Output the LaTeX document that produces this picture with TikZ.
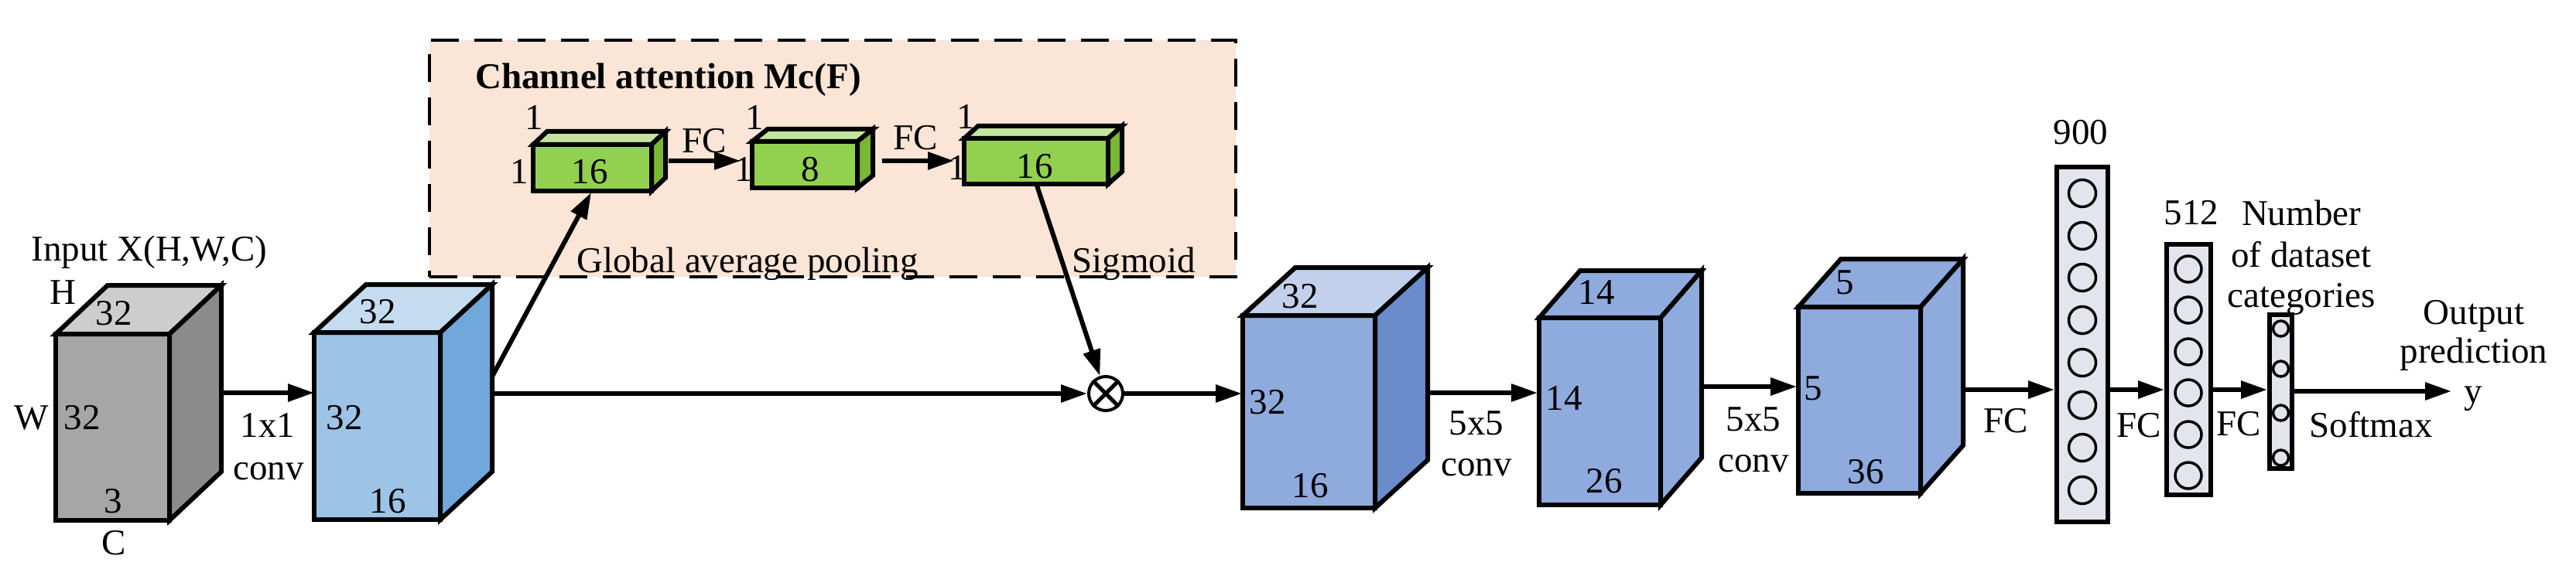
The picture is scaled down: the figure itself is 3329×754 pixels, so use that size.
\documentclass[tikz,border=0pt]{standalone}
\usepackage{fontspec}
\setmainfont{Liberation Serif}
\usetikzlibrary{arrows.meta}
\definecolor{grayFront}{HTML}{A6A6A6}
\definecolor{graySide}{HTML}{8B8B8B}
\definecolor{grayTop}{HTML}{CDCDCD}
\definecolor{bOneFront}{HTML}{9DC3E6}
\definecolor{bOneSide}{HTML}{70A8DB}
\definecolor{bOneTop}{HTML}{C5DCF0}
\definecolor{bThreeFront}{HTML}{8FAADC}
\definecolor{bThreeSide}{HTML}{6A8CCC}
\definecolor{bThreeTop}{HTML}{C2D0EB}
\definecolor{gFront}{HTML}{92D050}
\definecolor{gTop}{HTML}{C4E3A0}
\definecolor{gSide}{HTML}{7AB834}
\definecolor{peach}{HTML}{FBE5D6}
\definecolor{fcfill}{HTML}{E4E4EC}
\newcommand{\drawcube}[9]{%
  \filldraw[cubeedge, fill=#7] (#1,#2) rectangle ++(#3,#4);
  \filldraw[cubeedge, fill=#8] (#1,#2) -- ++(#5,-#6) -- ++(#3,0) -- ++(-#5,#6) -- cycle;
  \filldraw[cubeedge, fill=#9] ({#1+#3},#2) -- ++(#5,-#6) -- ++(0,#4) -- ++(-#5,#6) -- cycle;
}
\begin{document}
\begin{tikzpicture}[x=1pt,y=-1pt,
  lbl/.style={inner sep=0pt, anchor=base, font=\fontsize{47}{56}\selectfont},
  arr/.style={line width=6pt, -{Triangle[length=34pt,width=22pt]}},
  cubeedge/.style={line width=6pt, line join=miter},
  fcbox/.style={draw, line width=6pt, fill=fcfill, rectangle, inner sep=0pt},
  neuron/.style={draw, circle, line width=3.5pt, inner sep=0pt, minimum size=#1},
]
\useasboundingbox (0,0) rectangle (3329,754);

% attention region
\node[draw, line width=4.5pt, dash pattern=on 36pt off 20pt, fill=peach,
      minimum width=1042pt, minimum height=306pt, inner sep=0pt] (attbox) at (1076,205) {};
\node[lbl, anchor=base west, font=\fontsize{47}{56}\selectfont\bfseries] (title) at (614,115) {Channel attention Mc(F)};

% cuboids
\drawcube{72}{432}{147}{241}{67}{63}{grayFront}{grayTop}{graySide}
\drawcube{406}{430}{163}{242}{67}{62}{bOneFront}{bOneTop}{bOneSide}
\drawcube{689}{187}{153}{60}{18}{17}{gFront}{gTop}{gSide}
\drawcube{972}{183}{136}{60}{20}{16}{gFront}{gTop}{gSide}
\drawcube{1246}{179}{186}{59}{18}{16}{gFront}{gTop}{gSide}
\drawcube{1606}{408}{171}{249}{68}{62}{bThreeFront}{bThreeTop}{bThreeSide}
\drawcube{1989}{411}{157}{242}{53}{61}{bThreeFront}{bThreeFront}{bThreeFront}
\drawcube{2324}{397}{158}{241}{55}{62}{bThreeFront}{bThreeFront}{bThreeFront}

% attachment points
\coordinate (grayR) at (286,508);
\coordinate (b1L) at (406,508);
\coordinate (b1R) at (636,509);
\coordinate (b1Rup) at (636,487);
\coordinate (g1B) at (764,249);
\coordinate (g1R) at (864,208);
\coordinate (g2L) at (957,208);
\coordinate (g2R) at (1140,208);
\coordinate (g3L) at (1233,208);
\coordinate (g3B) at (1340,240);
\coordinate (b3L) at (1605,509);
\coordinate (b3R) at (1845,508);
\coordinate (b4L) at (1987,508);
\coordinate (b4R) at (2199,500);
\coordinate (b5L) at (2322,500);
\coordinate (b5R) at (2535,504);
\coordinate (fcy) at (0,504);
\coordinate (yTip) at (3168,506);

% multiply node
\node[draw, circle, line width=4pt, minimum size=44pt, inner sep=0pt, fill=white] (mul) at (1429,509) {};
\draw[line width=5pt] (mul.north west) -- (mul.south east);
\draw[line width=5pt] (mul.north east) -- (mul.south west);

% fully connected layers
\node[fcbox, minimum width=66pt, minimum height=459pt] (fc900) at (2691,445.5) {};
\node[fcbox, minimum width=57pt, minimum height=324pt] (fc512) at (2828.5,478) {};
\node[fcbox, minimum width=29pt, minimum height=199pt] (fcout) at (2947.5,506.5) {};
\foreach \i/\yy in {1/250,2/305,3/359,4/414,5/469,6/524,7/579,8/634}
  \node[neuron=35pt] (n900-\i) at (2691,\yy) {};
\foreach \i/\yy in {1/348,2/401,3/455,4/508,5/562,6/615}
  \node[neuron=34pt] (n512-\i) at (2828,\yy) {};
\foreach \i/\yy in {1/425,2/477,3/534,4/592}
  \node[neuron=20pt] (nout-\i) at (2947.5,\yy) {};

% connectors
\draw[arr] (grayR) -- (b1L);
\draw[arr] (b1Rup) -- (g1B);
\draw[arr] (g1R) -- (g2L);
\draw[arr] (g2R) -- (g3L);
\draw[arr] (g3B) -- (mul);
\draw[arr] (b1R) -- (mul.west);
\draw[arr] (mul.east) -- (b3L);
\draw[arr] (b3R) -- (b4L);
\draw[arr] (b4R) -- (b5L);
\draw[arr] (b5R) -- (fc900.west |- fcy);
\draw[arr] (fc900.east |- fcy) -- (fc512.west |- fcy);
\draw[arr] (fc512.east |- fcy) -- (fcout.west |- fcy);
\draw[arr] (fcout.east |- yTip) -- (yTip);

% labels: input cuboid
\node[lbl] (tInput) at (193,337) {Input X(H,W,C)};
\node[lbl] (tH) at (81,393) {H};
\node[lbl] (tG32a) at (147,420) {32};
\node[lbl] (tW) at (41,555) {W};
\node[lbl] (tG32b) at (106,555) {32};
\node[lbl] (tG3) at (146,663) {3};
\node[lbl] (tC) at (147,717) {C};
\node[lbl] (t1x1) at (346,565) {1x1};
\node[lbl] (tconvA) at (347,620) {conv};
% blue 1
\node[lbl] (tB1a) at (488,418) {32};
\node[lbl] (tB1b) at (445,555) {32};
\node[lbl] (tB1c) at (501,663) {16};
% attention
\node[lbl] (tg1top) at (690,168) {1};
\node[lbl] (tg1left) at (671,237) {1};
\node[lbl] (tg1num) at (762,237) {16};
\node[lbl] (tFC1) at (910,197) {FC};
\node[lbl] (tg2top) at (975,168) {1};
\node[lbl] (tg2left) at (961,234) {1};
\node[lbl] (tg2num) at (1047,234) {8};
\node[lbl] (tFC2) at (1183,194) {FC};
\node[lbl] (tg3top) at (1248,167) {1};
\node[lbl] (tg3left) at (1237,233) {1};
\node[lbl] (tg3num) at (1337,230) {16};
\node[lbl] (tGAP) at (966,352) {Global average pooling};
\node[lbl] (tSig) at (1465,352) {Sigmoid};
% blue 3
\node[lbl] (tB3a) at (1680,398) {32};
\node[lbl] (tB3b) at (1638,535) {32};
\node[lbl] (tB3c) at (1693,643) {16};
\node[lbl] (t5x5a) at (1908,562) {5x5};
\node[lbl] (tconvB) at (1908,615) {conv};
% blue 4
\node[lbl] (tB4a) at (2063,393) {14};
\node[lbl] (tB4b) at (2021,530) {14};
\node[lbl] (tB4c) at (2073,637) {26};
\node[lbl] (t5x5b) at (2266,557) {5x5};
\node[lbl] (tconvC) at (2266,610) {conv};
% blue 5
\node[lbl] (tB5a) at (2384,380) {5};
\node[lbl] (tB5b) at (2343,517) {5};
\node[lbl] (tB5c) at (2411,625) {36};
% FC part
\node[lbl] (tFC3) at (2592,559) {FC};
\node[lbl] (tFC4) at (2764,565) {FC};
\node[lbl] (tFC5) at (2893,563) {FC};
\node[lbl] (t900) at (2689,186) {900};
\node[lbl] (t512) at (2832,290) {512};
\node[lbl] (tNum1) at (2974,291) {Number};
\node[lbl] (tNum2) at (2974,345) {of dataset};
\node[lbl] (tNum3) at (2974,397) {categories};
\node[lbl] (tOut1) at (3197,419) {Output};
\node[lbl] (tOut2) at (3197,469) {prediction};
\node[lbl] (ty) at (3196,521) {y};
\node[lbl] (tSoft) at (3064,565) {Softmax};
\end{tikzpicture}
\end{document}
